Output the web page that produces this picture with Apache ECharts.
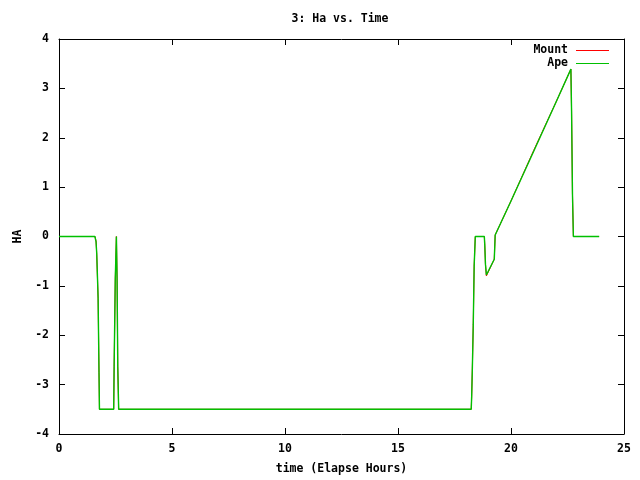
<!DOCTYPE html>
<html>
<head>
<meta charset="utf-8">
<script src="https://cdn.jsdelivr.net/npm/echarts@6/dist/echarts.min.js"></script>
<style>html,body{margin:0;padding:0;background:#fff;}#c{width:640px;height:480px;}</style>
</head>
<body>
<div id="c"></div>
<script>
const titleText = "3: Ha vs. Time";
const xName = "time (Elapse Hours)";
const yName = "HA";
const seriesNames = ["Mount", "Ape"];
const seriesColors = ["#ff0000", "#00c000"];
const timeHours = [0, 1.59, 1.64, 1.67, 1.73, 1.77, 1.79, 2.42, 2.44, 2.49, 2.54, 2.57, 2.60, 2.64, 18.24, 18.26, 18.29, 18.33, 18.37, 18.42, 18.82, 18.84, 18.87, 18.91, 19.26, 19.30, 20.0, 21.0, 22.0, 22.65, 22.68, 22.72, 22.76, 23.90];
const mountHA = [0, 0, -0.09, -0.37, -1.25, -2.75, -3.5, -3.5, -2.63, -0.86, 0, -0.86, -2.63, -3.5, -3.5, -3.24, -2.67, -1.78, -0.6, 0, 0, -0.18, -0.56, -0.8, -0.46, 0.03, 0.72, 1.74, 2.73, 3.39, 2.54, 0.86, 0, 0];
const apeHA = [0, 0, -0.11, -0.35, -1.23, -2.75, -3.5, -3.5, -2.63, -0.86, 0, -0.86, -2.63, -3.5, -3.5, -3.24, -2.67, -1.78, -0.6, 0, 0, -0.18, -0.56, -0.78, -0.46, 0.03, 0.72, 1.72, 2.73, 3.39, 2.54, 0.86, 0, 0];

const font = "'DejaVu Sans Mono', monospace";
const fs = 11.5;
const pair = (xs, ys) => xs.map((x, i) => [x, ys[i]]);
const chart = echarts.init(document.getElementById('c'), null, {renderer: 'canvas'});
const axisCommon = () => ({
  axisLine: {show: true, onZero: false, lineStyle: {color: '#000', width: 1}},
  axisTick: {show: true, inside: true, length: 6, lineStyle: {color: '#000'}},
  splitLine: {show: false}
});
chart.setOption({
  animation: false,
  backgroundColor: '#fff',
  grid: {left: 59, right: 16, top: 39, bottom: 42},
  graphic: [{type: 'text', x: 340, y: 19, style: {text: titleText, fill: '#000', font: 'bold ' + fs + 'px ' + font, textAlign: 'center', textVerticalAlign: 'middle'}}],
  legend: {
    orient: 'vertical', right: 26, top: 39, align: 'right', itemGap: 0,
    icon: 'rect', itemWidth: 33, itemHeight: 1,
    itemStyle: {borderWidth: 0},
    textStyle: {fontFamily: font, fontWeight: 'bold', fontSize: fs, color: '#000', lineHeight: 13, padding: [0, 3, 0, 0]},
    data: seriesNames.map((n, i) => ({name: n, itemStyle: {color: seriesColors[i], borderWidth: 0}}))
  },
  xAxis: [
    Object.assign({type: 'value', min: 0, max: 25, interval: 5, position: 'bottom',
      name: xName, nameLocation: 'middle', nameGap: 29,
      nameTextStyle: {fontFamily: font, fontWeight: 'bold', fontSize: fs, color: '#000'},
      axisLabel: {fontFamily: font, fontWeight: 'bold', fontSize: fs, color: '#000', margin: 9}}, axisCommon()),
    Object.assign({type: 'value', min: 0, max: 25, interval: 5, position: 'top', axisLabel: {show: false}}, axisCommon())
  ],
  yAxis: [
    Object.assign({type: 'value', min: -4, max: 4, interval: 1, position: 'left',
      name: yName, nameLocation: 'middle', nameGap: 29, nameRotate: 90,
      nameTextStyle: {fontFamily: font, fontWeight: 'bold', fontSize: fs, color: '#000'},
      axisLabel: {fontFamily: font, fontWeight: 'bold', fontSize: fs, color: '#000', margin: 10}}, axisCommon()),
    Object.assign({type: 'value', min: -4, max: 4, interval: 1, position: 'right', axisLabel: {show: false}}, axisCommon())
  ],
  series: [
    {name: seriesNames[0], type: 'line', z: 2, data: pair(timeHours, mountHA), showSymbol: false, symbol: 'none', color: seriesColors[0], itemStyle: {color: seriesColors[0]}, lineStyle: {width: 1, color: seriesColors[0]}},
    {name: seriesNames[1], type: 'line', z: 3, data: pair(timeHours, apeHA), showSymbol: false, symbol: 'none', color: seriesColors[1], itemStyle: {color: seriesColors[1]}, lineStyle: {width: 1.4, color: seriesColors[1]}}
  ]
});
</script>
</body>
</html>
